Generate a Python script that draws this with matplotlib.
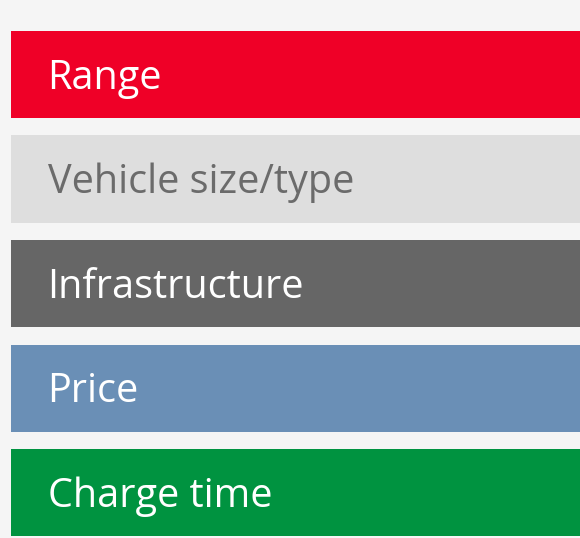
import matplotlib
matplotlib.use("Agg")
import matplotlib.pyplot as plt

categories = ["Range", "Vehicle size/type", "Infrastructure", "Price", "Charge time"]
values = [100, 100, 100, 100, 100]
bar_colors = ["#ef0027", "#dedede", "#666666", "#6a8fb6", "#009340"]
text_colors = ["#ffffff", "#6b6b6b", "#ffffff", "#ffffff", "#ffffff"]

fig = plt.figure(figsize=(5.8, 5.38), dpi=100, facecolor="#f5f5f5")
ax = fig.add_axes([0, 0, 1, 1])
ax.set_facecolor("#f5f5f5")

ypos = list(range(len(categories)))
ax.barh(ypos, values, height=0.833, color=bar_colors, left=0)
ax.set_xlim(-1.9, 98.1)
ax.set_ylim(4.435, -0.713)
for y, lab, tc in zip(ypos, categories, text_colors):
    ax.text(6.3, y + 0.135, lab, color=tc, fontsize=28.5, family="Open Sans",
            va="baseline", ha="left")
ax.axis("off")
fig.savefig("out.png", dpi=100, facecolor=fig.get_facecolor())
